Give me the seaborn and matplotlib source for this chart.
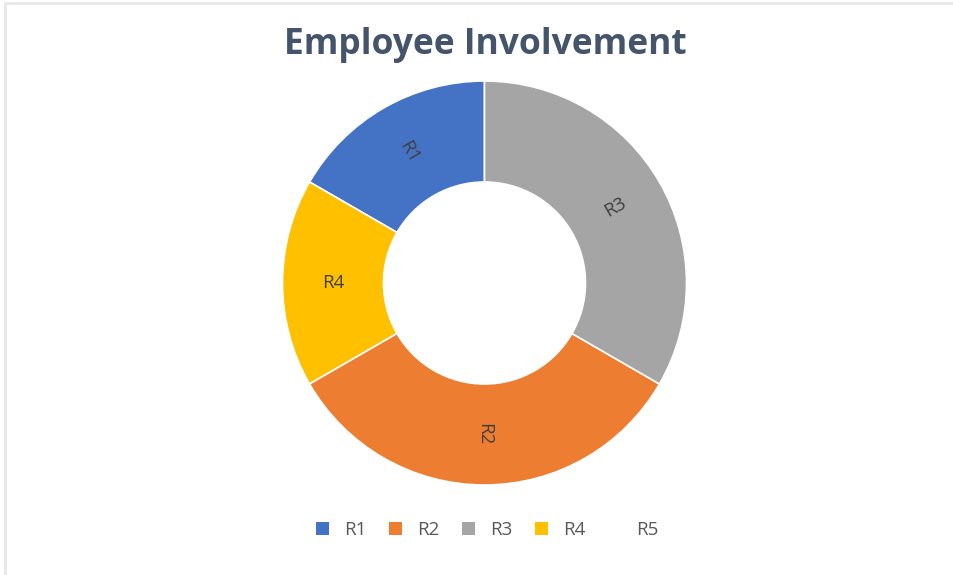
import matplotlib.pyplot as plt
import matplotlib.patches as mpatches
import seaborn as sns

sns.set_theme(style="white")
plt.rcParams['font.family'] = ['Open Sans', 'DejaVu Sans']

# data (R5 is zero, it only shows up in the legend)
series = ['R1', 'R2', 'R3', 'R4', 'R5']
values = [1, 2, 2, 1, 0]
colors = ['#4472C4', '#ED7D31', '#A5A5A5', '#FFC000', '#FFFFFF']

# drawing order around the ring (counter-clockwise from 12 o'clock)
draw_order = ['R1', 'R4', 'R2', 'R3']

fig = plt.figure(figsize=(9.54, 5.75), dpi=100)
fig.patch.set_facecolor('white')

# faint frame line like the screenshot
fig.add_artist(mpatches.Rectangle((5 / 954, -0.1), 1.2, (575 - 3) / 575 + 0.1,
                                  transform=fig.transFigure, fill=False,
                                  edgecolor='#E6E8EB', linewidth=2))

ax = fig.add_axes([282.5 / 954, 90 / 575, 404 / 954, 404 / 575])
idx = [series.index(s) for s in draw_order]
wedges, texts = ax.pie([values[i] for i in idx],
                       colors=[colors[i] for i in idx],
                       labels=[series[i] for i in idx],
                       labeldistance=0.75, rotatelabels=True,
                       startangle=90, counterclock=True, radius=1,
                       wedgeprops=dict(width=0.5, edgecolor='white', linewidth=1.2),
                       textprops=dict(color='#404040', fontsize=13.5))
for t in texts:
    t.set_horizontalalignment('center')
    t.set_verticalalignment('center')
ax.set_xlim(-1, 1)
ax.set_ylim(-1, 1)
ax.set_aspect('equal')
ax.axis('off')

fig.text(485 / 954, 1 - 45 / 575, 'Employee Involvement', ha='center', va='center',
         fontsize=25.5, fontweight='bold', color='#44546A')

handles = [mpatches.Patch(facecolor=c, edgecolor='none') for c in colors]
fig.legend(handles, series, loc='center', bbox_to_anchor=(487 / 954, 1 - 530 / 575),
           ncol=5, frameon=False, fontsize=13.5, labelcolor='#595959',
           handlelength=0.7, handleheight=0.7, handletextpad=0.8, columnspacing=1.2)

fig.savefig('out.png', dpi=100)
